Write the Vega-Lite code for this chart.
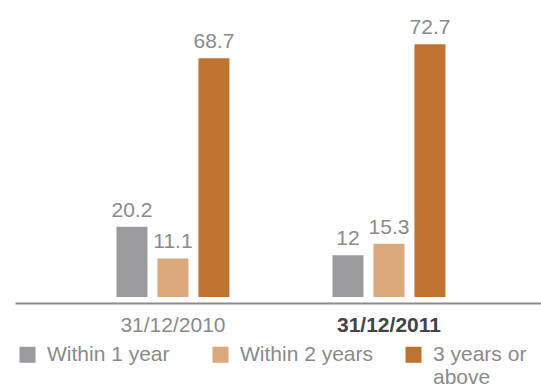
{
  "$schema": "https://vega.github.io/schema/vega-lite/v6.json",
  "width": 526,
  "height": 278,
  "autosize": {"type": "none"},
  "padding": {"left": 15, "top": 19, "right": 0, "bottom": 91},
  "background": "white",
  "config": {"view": {"stroke": null}, "font": "Liberation Sans"},
  "data": {
    "values": [
      {"date": "31/12/2010", "term": "Within 1 year", "value": 20.2},
      {"date": "31/12/2010", "term": "Within 2 years", "value": 11.1},
      {"date": "31/12/2010", "term": "3 years or above", "value": 68.7},
      {"date": "31/12/2011", "term": "Within 1 year", "value": 12},
      {"date": "31/12/2011", "term": "Within 2 years", "value": 15.3},
      {"date": "31/12/2011", "term": "3 years or above", "value": 72.7}
    ]
  },
  "encoding": {
    "x": {
      "field": "date",
      "type": "nominal",
      "sort": null,
      "scale": {"paddingInner": 0.477, "paddingOuter": 0.456, "align": 0.515},
      "axis": {
        "title": null,
        "ticks": false,
        "domainColor": "#8c8c8c",
        "domainWidth": 2,
        "offset": 6,
        "labelAngle": 0,
        "labelFontSize": 21,
        "labelPadding": 11,
        "labelColor": {"condition": {"test": "datum.value == '31/12/2011'", "value": "#444444"}, "value": "#8a8a8a"},
        "labelFontWeight": {"condition": {"test": "datum.value == '31/12/2011'", "value": "bold"}, "value": "normal"}
      }
    },
    "xOffset": {
      "field": "term",
      "type": "nominal",
      "sort": ["Within 1 year", "Within 2 years", "3 years or above"],
      "scale": {"paddingInner": 0.244, "paddingOuter": 0}
    },
    "y": {
      "field": "value",
      "type": "quantitative",
      "scale": {"domain": [0, 80], "nice": false},
      "axis": null
    }
  },
  "layer": [
    {
      "mark": {"type": "bar"},
      "encoding": {
        "color": {
          "field": "term",
          "type": "nominal",
          "sort": ["Within 1 year", "Within 2 years", "3 years or above"],
          "scale": {"domain": ["Within 1 year", "Within 2 years", "3 years or above"], "range": ["#9b9b9e", "#dba97b", "#bf7330"]},
          "legend": {
            "title": null,
            "orient": "none",
            "legendX": 2,
            "legendY": 325,
            "direction": "horizontal",
            "columns": 3,
            "gridAlign": "all",
            "columnPadding": 29,
            "padding": 0,
            "symbolType": "square",
            "symbolSize": 256,
            "symbolStrokeWidth": 0,
            "symbolOpacity": 1,
            "labelFontSize": 21,
            "labelColor": "#8a8a8a",
            "labelOffset": 9,
            "labelLimit": 400,
            "labelBaseline": "alphabetic",
            "labelExpr": "datum.label == '3 years or above' ? ['3 years or', 'above'] : [datum.label, '']",
            "encode": {"labels": {"update": {"dy": {"value": 6}}}}
          }
        }
      }
    },
    {
      "mark": {"type": "text", "baseline": "alphabetic", "dy": -10, "fontSize": 21, "color": "#8a8a8a"},
      "encoding": {"text": {"field": "value", "type": "nominal"}}
    }
  ]
}
